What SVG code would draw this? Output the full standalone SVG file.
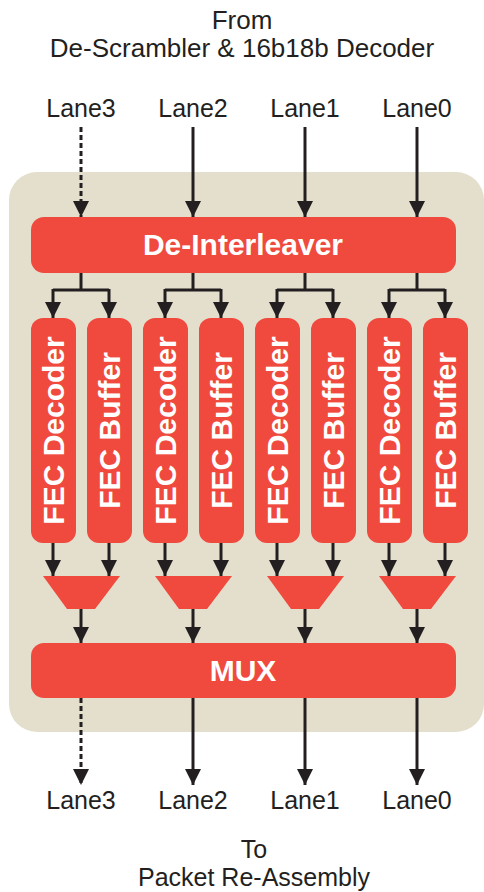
<svg xmlns="http://www.w3.org/2000/svg" width="484" height="892" viewBox="0 0 484 892">
<style>
.lbl{font-family:"Liberation Sans",Arial,sans-serif;font-size:25px;fill:#231f20;text-anchor:middle}
.ttl{font-size:26px}
.blk{fill:#f0493e}
.wt{font-family:"Liberation Sans",Arial,sans-serif;font-weight:bold;font-size:30px;fill:#ffffff;text-anchor:middle}
.ln{stroke:#231f20;stroke-width:3;fill:none}
.arr{stroke:#231f20;stroke-width:3;fill:none;marker-end:url(#ah)}
.dash{stroke-dasharray:5 3}
</style>
<defs>
<marker id="ah" markerUnits="userSpaceOnUse" markerWidth="16" markerHeight="16" viewBox="0 0 15 15" refX="15" refY="7.5" orient="auto">
<path d="M0,0 L15,7.5 L0,15 Z" fill="#231f20"/>
</marker>
</defs>
<rect id="background" x="9" y="172" width="475" height="560" rx="28" fill="#e3dfcc"/>
<g id="title">
<text class="lbl ttl" x="242" y="29">From</text>
<text class="lbl ttl" x="242" y="57">De-Scrambler &amp; 16b18b Decoder</text>
</g>
<g id="inputs">
<text class="lbl" x="81" y="117">Lane3</text>
<text class="lbl" x="193" y="117">Lane2</text>
<text class="lbl" x="305" y="117">Lane1</text>
<text class="lbl" x="417" y="117">Lane0</text>
</g>
<g id="outputs">
<text class="lbl" x="81" y="809">Lane3</text>
<text class="lbl" x="193" y="809">Lane2</text>
<text class="lbl" x="305" y="809">Lane1</text>
<text class="lbl" x="417" y="809">Lane0</text>
<text class="lbl" x="254" y="858">To</text>
<text class="lbl" x="254" y="886">Packet Re-Assembly</text>
</g>
<g id="connectors">
<line class="arr dash" x1="81" y1="127" x2="81" y2="217"/>
<line class="arr" x1="193" y1="127" x2="193" y2="217"/>
<line class="arr" x1="305" y1="127" x2="305" y2="217"/>
<line class="arr" x1="417" y1="127" x2="417" y2="217"/>
<path class="ln" d="M81,273V290M53,290H109M193,273V290M165,290H221M305,273V290M277,290H333M417,273V290M389,290H445"/>
<line class="arr" x1="53" y1="289" x2="53" y2="318"/>
<line class="arr" x1="109" y1="289" x2="109" y2="318"/>
<line class="arr" x1="165" y1="289" x2="165" y2="318"/>
<line class="arr" x1="221" y1="289" x2="221" y2="318"/>
<line class="arr" x1="277" y1="289" x2="277" y2="318"/>
<line class="arr" x1="333" y1="289" x2="333" y2="318"/>
<line class="arr" x1="389" y1="289" x2="389" y2="318"/>
<line class="arr" x1="445" y1="289" x2="445" y2="318"/>
<line class="arr" x1="53" y1="543" x2="53" y2="576"/>
<line class="arr" x1="109" y1="543" x2="109" y2="576"/>
<line class="arr" x1="165" y1="543" x2="165" y2="576"/>
<line class="arr" x1="221" y1="543" x2="221" y2="576"/>
<line class="arr" x1="277" y1="543" x2="277" y2="576"/>
<line class="arr" x1="333" y1="543" x2="333" y2="576"/>
<line class="arr" x1="389" y1="543" x2="389" y2="576"/>
<line class="arr" x1="445" y1="543" x2="445" y2="576"/>
<line class="arr" x1="81" y1="608" x2="81" y2="643"/>
<line class="arr" x1="193" y1="608" x2="193" y2="643"/>
<line class="arr" x1="305" y1="608" x2="305" y2="643"/>
<line class="arr" x1="417" y1="608" x2="417" y2="643"/>
<line class="arr dash" x1="81" y1="698" x2="81" y2="785"/>
<line class="arr" x1="193" y1="698" x2="193" y2="785"/>
<line class="arr" x1="305" y1="698" x2="305" y2="785"/>
<line class="arr" x1="417" y1="698" x2="417" y2="785"/>
</g>
<g id="deinterleaver">
<rect class="blk" x="31" y="217" width="425" height="56" rx="13"/>
<text class="wt" x="243" y="255">De-Interleaver</text>
</g>
<g id="fec-decoder-3"><rect class="blk" x="31" y="318" width="45" height="225" rx="12"/><text class="wt" transform="translate(64,430.5) rotate(-90)">FEC Decoder</text></g>
<g id="fec-buffer-3"><rect class="blk" x="87" y="318" width="45" height="225" rx="12"/><text class="wt" transform="translate(120,430.5) rotate(-90)">FEC Buffer</text></g>
<g id="fec-decoder-2"><rect class="blk" x="143" y="318" width="45" height="225" rx="12"/><text class="wt" transform="translate(176,430.5) rotate(-90)">FEC Decoder</text></g>
<g id="fec-buffer-2"><rect class="blk" x="199" y="318" width="45" height="225" rx="12"/><text class="wt" transform="translate(232,430.5) rotate(-90)">FEC Buffer</text></g>
<g id="fec-decoder-1"><rect class="blk" x="255" y="318" width="45" height="225" rx="12"/><text class="wt" transform="translate(288,430.5) rotate(-90)">FEC Decoder</text></g>
<g id="fec-buffer-1"><rect class="blk" x="311" y="318" width="45" height="225" rx="12"/><text class="wt" transform="translate(344,430.5) rotate(-90)">FEC Buffer</text></g>
<g id="fec-decoder-0"><rect class="blk" x="367" y="318" width="45" height="225" rx="12"/><text class="wt" transform="translate(400,430.5) rotate(-90)">FEC Decoder</text></g>
<g id="fec-buffer-0"><rect class="blk" x="423" y="318" width="45" height="225" rx="12"/><text class="wt" transform="translate(456,430.5) rotate(-90)">FEC Buffer</text></g>
<g id="mux-3"><polygon class="blk" points="43,576 120,576 95,609 67,609"/></g>
<g id="mux-2"><polygon class="blk" points="155,576 232,576 207,609 179,609"/></g>
<g id="mux-1"><polygon class="blk" points="267,576 344,576 319,609 291,609"/></g>
<g id="mux-0"><polygon class="blk" points="379,576 456,576 431,609 403,609"/></g>
<g id="mux">
<rect class="blk" x="31" y="643" width="425" height="55" rx="13"/>
<text class="wt" x="243" y="681">MUX</text>
</g>
</svg>
